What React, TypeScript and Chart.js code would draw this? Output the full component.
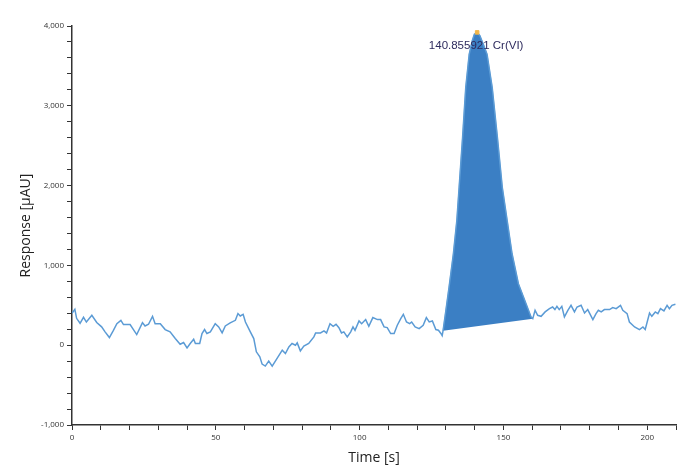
import React, { useEffect, useRef } from "react";
import { Chart, registerables } from "chart.js";

Chart.register(...registerables);

// ---- data ----
const preTime = [0, 1, 1.6, 2.8, 4, 5, 6.9, 8.6, 10.3, 11.5, 13, 14.4, 15.6, 17, 17.9, 20.2, 22.5, 24.5, 25.4, 26.6, 28, 28.9, 30.7, 32.4, 34.1, 35.9, 37.6, 38.8, 40, 41.1, 42.3, 42.9, 44.4, 45.2, 46.1, 46.9, 48.1, 49.8, 51, 52.2, 53.3, 55, 56.8, 57.7, 58.5, 59.5, 60.3, 62, 63.2, 64.1, 65.3, 66.1, 67.2, 68.4, 69.6, 71.3, 73.1, 74.2, 75.4, 76.5, 77.7, 78.3, 79.4, 80.6, 82.3, 84.1, 84.7, 86.4, 87.6, 88.5, 89.7, 90.8, 91.8, 92.8, 93.7, 94.5, 95.7, 96.9, 97.7, 98.4, 99.8, 100.7, 102.1, 103.2, 104.6, 106.2, 107.3, 108.5, 109.6, 110.8, 112, 113.1, 114.3, 115.2, 116.3, 117.4, 118.1, 119.3, 120.7, 122.1, 123.2, 124.2, 125.3, 126.5, 127.4, 128.2, 128.7];
const preResponse = [400, 450, 337, 275, 350, 290, 375, 285, 230, 167, 96, 187, 270, 312, 258, 258, 133, 283, 241, 262, 362, 270, 270, 196, 167, 83, 12, 33, -33, 21, 75, 21, 21, 146, 196, 146, 167, 270, 229, 154, 241, 279, 312, 396, 366, 387, 291, 167, 83, -83, -146, -237, -262, -200, -262, -166, -62, -104, -21, 21, 0, 29, -71, -12, 21, 104, 154, 154, 179, 154, 270, 237, 262, 220, 154, 167, 104, 167, 229, 187, 304, 270, 321, 237, 346, 321, 321, 229, 221, 146, 146, 250, 333, 387, 291, 270, 291, 229, 208, 250, 346, 291, 304, 196, 187, 150, 120];

const peakTime = [129, 130, 131.1, 132.6, 133.8, 134.6, 135.8, 136.9, 138.1, 139.2, 139.9, 140.86, 141.8, 142.9, 144.3, 146.1, 147.9, 149.6, 151.3, 153, 155.2, 157.4, 159.6, 160.2];
const peakResponse = [180, 437, 729, 1146, 1562, 1979, 2604, 3229, 3646, 3820, 3896, 3920, 3880, 3780, 3646, 3229, 2604, 1979, 1562, 1146, 771, 562, 354, 333];

const postTime = [161, 161.9, 163.1, 164.5, 166, 167.1, 167.9, 168.6, 169.4, 170.3, 171.2, 172.4, 173.5, 174.7, 175.6, 177, 178.2, 179.3, 181.1, 182.2, 183, 184, 185.1, 186.9, 188, 189.2, 190.7, 191.5, 193, 193.8, 195.6, 197.3, 198.5, 199.3, 200.8, 201.6, 202.8, 203.7, 204.6, 205.8, 206.9, 207.7, 208.6, 209.8];
const postResponse = [437, 375, 362, 417, 458, 479, 446, 487, 446, 487, 354, 437, 500, 417, 479, 500, 404, 446, 321, 396, 437, 417, 446, 446, 471, 458, 500, 437, 396, 291, 229, 196, 229, 196, 404, 362, 417, 396, 458, 429, 500, 458, 500, 512];

const apexTime = [140.86];
const apexResponse = [3920];
const apexLabel = "140.855921 Cr(VI)";

const xTitle = "Time [s]";
const yTitle = "Response [µAU]";
const xRange = [0, 210];
const yRange = [-1000, 4000];
const xStep = 10;
const xLabelEvery = 50;
const yStep = 200;
const yLabelEvery = 1000;

const toPoints = (xs: number[], ys: number[]) => xs.map((x, i) => ({ x, y: ys[i] }));

const apexLabelPlugin = {
  id: "apexLabel",
  afterDatasetsDraw(chart: any) {
    const { ctx, scales } = chart;
    const px = scales.x.getPixelForValue(apexTime[0]);
    const py = scales.y.getPixelForValue(apexResponse[0]);
    ctx.save();
    ctx.font = '11.5px "Liberation Sans", Arial, sans-serif';
    ctx.fillStyle = "#2e2b5e";
    ctx.textAlign = "center";
    ctx.textBaseline = "middle";
    ctx.fillText(apexLabel, px - 1, py + 13);
    ctx.restore();
  },
};

export default function App() {
  const canvasRef = useRef<HTMLCanvasElement | null>(null);

  useEffect(() => {
    document.body.style.margin = "0";
    const canvas = canvasRef.current;
    if (!canvas) return;
    const traceTime = [...preTime, ...peakTime, ...postTime];
    const traceResponse = [...preResponse, ...peakResponse, ...postResponse];
    const tickFont = { family: '"Open Sans", "Liberation Sans", sans-serif', size: 8 };
    const titleFont = { family: '"Open Sans", "Liberation Sans", sans-serif', size: 14 };

    const chart = new Chart(canvas, {
      type: "line",
      data: {
        datasets: [
          {
            label: "apex",
            data: toPoints(apexTime, apexResponse),
            showLine: false,
            pointStyle: "rect",
            pointRadius: 2.5,
            backgroundColor: "#f2b64a",
            borderColor: "#f2b64a",
            order: -1,
          },
          {
            label: "trace",
            data: toPoints(traceTime, traceResponse),
            borderColor: "#5b9bd5",
            borderWidth: 1.5,
            pointRadius: 0,
            fill: false,
            tension: 0,
            order: 0,
          },
          {
            label: "peak",
            data: toPoints(peakTime, peakResponse),
            borderColor: "#3b7fc4",
            borderWidth: 0.5,
            backgroundColor: "#3b7fc4",
            pointRadius: 0,
            fill: "shape",
            tension: 0,
            order: 1,
          },
        ] as any,
      },
      options: {
        responsive: false,
        animation: false,
        layout: { padding: { top: 26, right: 24, left: 0, bottom: 0 } },
        plugins: { legend: { display: false }, tooltip: { enabled: false } },
        scales: {
          x: {
            type: "linear",
            min: xRange[0],
            max: xRange[1],
            afterFit(scale: any) {
              scale.height = 42;
            },
            grid: { drawOnChartArea: false, drawTicks: true, tickLength: 5, color: "#333", lineWidth: 1 },
            border: { display: true, color: "#333", width: 1.5 },
            ticks: {
              stepSize: xStep,
              autoSkip: false,
              maxRotation: 0,
              padding: 3,
              color: "#333",
              font: tickFont,
              callback: (v: any) => (Number(v) % xLabelEvery === 0 ? String(v) : ""),
            },
            title: { display: true, text: xTitle, color: "#222", font: titleFont, padding: { top: 0, bottom: 1 } },
          },
          y: {
            type: "linear",
            min: yRange[0],
            max: yRange[1],
            afterFit(scale: any) {
              scale.width = 72;
            },
            grid: { drawOnChartArea: false, drawTicks: true, tickLength: 5, color: "#333", lineWidth: 1 },
            border: { display: true, color: "#333", width: 1.5 },
            ticks: {
              stepSize: yStep,
              autoSkip: false,
              padding: 3,
              color: "#333",
              font: tickFont,
              callback: (v: any) => (Number(v) % yLabelEvery === 0 ? Number(v).toLocaleString("en-US") : ""),
            },
            title: { display: true, text: yTitle, color: "#222", font: titleFont, padding: { top: 18, bottom: 0 } },
          },
        },
      } as any,
      plugins: [apexLabelPlugin],
    });
    return () => chart.destroy();
  }, []);

  return <canvas ref={canvasRef} width={700} height={467} style={{ display: "block" }} />;
}
